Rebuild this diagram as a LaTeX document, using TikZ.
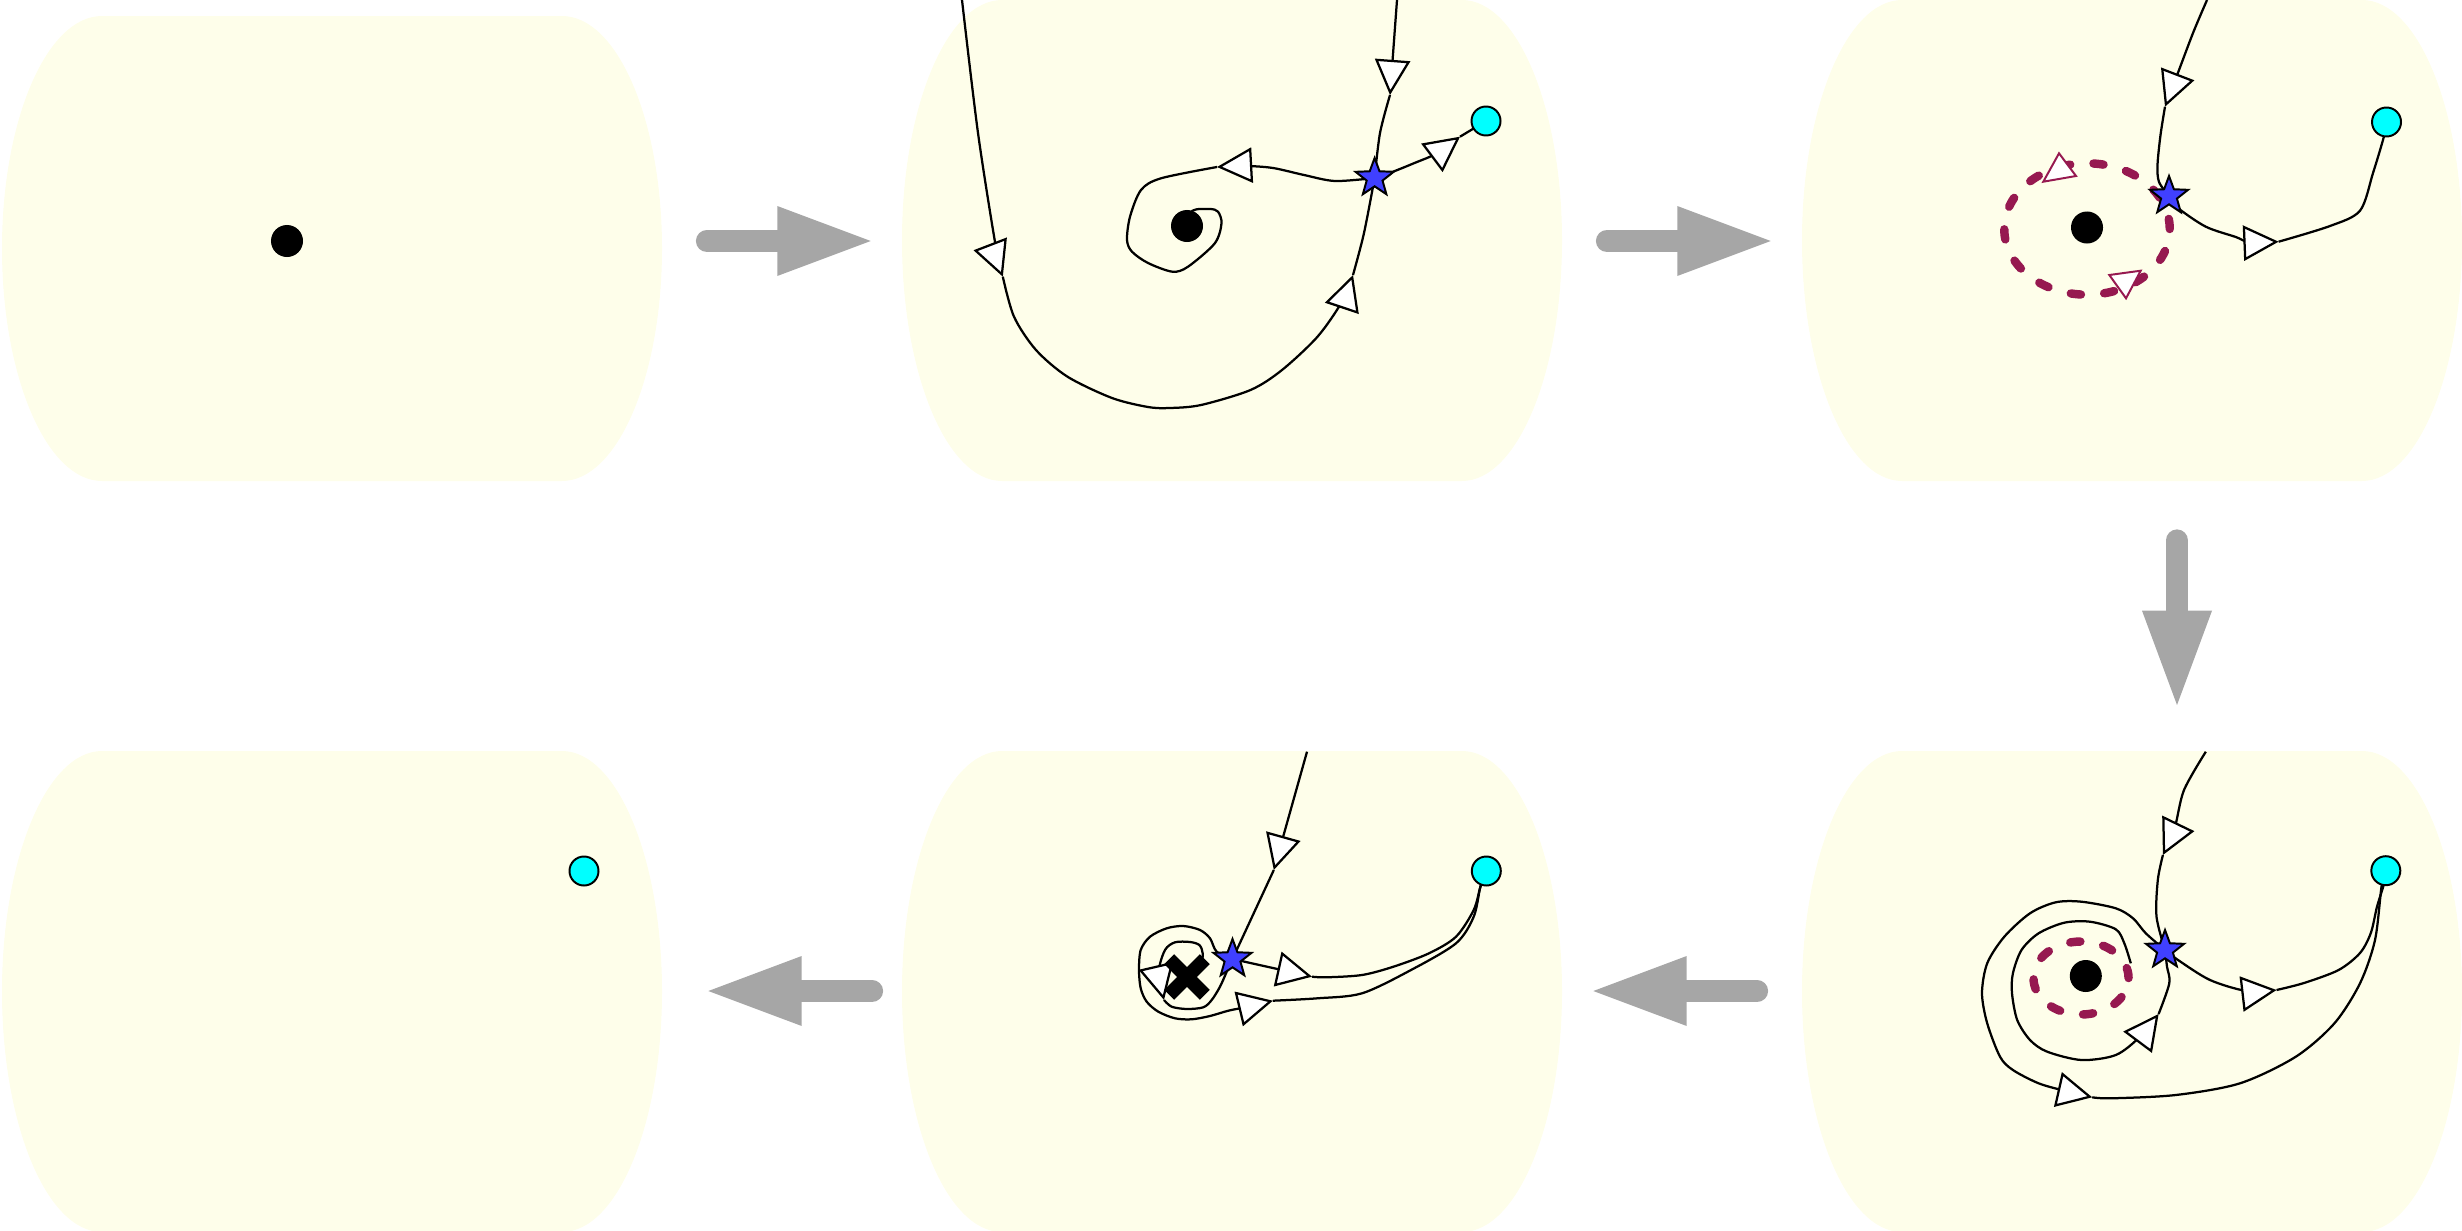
\documentclass[tikz,border=0pt]{standalone}
\usetikzlibrary{arrows.meta,shapes.geometric,shapes.misc}
\definecolor{panelfill}{RGB}{254,254,234}
\definecolor{arrowgray}{RGB}{166,166,166}
\definecolor{ringred}{RGB}{150,25,80}
\definecolor{starblue}{RGB}{64,64,255}
\definecolor{dotcyan}{RGB}{0,255,255}
\newcommand{\panelpath}[3]{%
 \pgfmathsetmacro\pL{#1}%
 \pgfmathsetmacro\pR{#1+660}%
 \pgfmathsetmacro\pM{(#2+#3)/2}%
 \pgfmathsetmacro\pK{0.5523*(#3-#2)/2}%
 \fill[panelfill] (\pL+100,#2) -- (\pR-100,#2)
   .. controls (\pR-44.77,#2) and (\pR,\pM-\pK) .. (\pR,\pM)
   .. controls (\pR,\pM+\pK) and (\pR-44.77,#3) .. (\pR-100,#3)
   -- (\pL+100,#3)
   .. controls (\pL+44.77,#3) and (\pL,\pM+\pK) .. (\pL,\pM)
   .. controls (\pL,\pM-\pK) and (\pL+44.77,#2) .. (\pL+100,#2) -- cycle;
}
\tikzset{
 flowline/.style={line width=0.8pt, draw=black},
 flowtip/.style={flowline, -{Triangle[length=0.44cm, width=0.44cm, fill=white]}},
 ring/.style={draw=ringred, line width=3pt, line cap=round, dash pattern=on 3.6pt off 8.3pt},
 ringtip/.style={draw=ringred, fill=white, line width=0.7pt},
 sink/.style={circle, fill=black, inner sep=0pt, minimum size=0.4cm},
 source/.style={circle, draw=black, fill=dotcyan, line width=0.7pt, inner sep=0pt, minimum size=0.3625cm},
 saddle/.style={star, star points=5, star point ratio=2.4, draw=black, fill=starblue, line width=0.7pt, inner sep=0pt, minimum size=0.5cm},
 xmark/.style={cross out, draw=black, line width=5pt, inner sep=0pt, minimum size=0.27cm},
 bigshaft/.style={draw=arrowgray, line width=7.9pt, line cap=round},
 bighead/.style={fill=arrowgray}
}
\begin{document}
\begin{tikzpicture}[x=0.0125cm, y=-0.0125cm]
\useasboundingbox (0,0) rectangle (2462,1231);
% panels
\panelpath{2}{16}{481}
\panelpath{902}{0}{481}
\panelpath{1802}{0}{481}
\panelpath{2}{751}{1232}
\panelpath{902}{751}{1232}
\panelpath{1802}{751}{1232}
% gray arrows between panels
\coordinate (g1s) at (707,241);   \coordinate (g1b) at (777.3,241);
\draw[bigshaft] (g1s) -- (g1b);
\fill[bighead] (777.3,206) -- (870.7,241) -- (777.3,276) -- cycle;
\coordinate (g2s) at (1607,241);  \coordinate (g2b) at (1677.3,241);
\draw[bigshaft] (g2s) -- (g2b);
\fill[bighead] (1677.3,206) -- (1770.7,241) -- (1677.3,276) -- cycle;
\coordinate (g3s) at (2177,540.5); \coordinate (g3b) at (2177,610.7);
\draw[bigshaft] (g3s) -- (g3b);
\fill[bighead] (2142,610.7) -- (2177,705) -- (2212,610.7) -- cycle;
\coordinate (g4s) at (1757,991);  \coordinate (g4b) at (1686.7,991);
\draw[bigshaft] (g4s) -- (g4b);
\fill[bighead] (1686.7,956) -- (1593.3,991) -- (1686.7,1026) -- cycle;
\coordinate (g5s) at (872,991);   \coordinate (g5b) at (801.7,991);
\draw[bigshaft] (g5s) -- (g5b);
\fill[bighead] (801.7,956) -- (708.3,991) -- (801.7,1026) -- cycle;

% key points
\coordinate (s2) at (1374.6,178);
\coordinate (c2) at (1486,121);
\coordinate (d2) at (1187,226);
\coordinate (s3) at (2169,196);
\coordinate (c3) at (2386.5,122);
\coordinate (d3) at (2087,227.5);
\coordinate (s5) at (1232.5,959);
\coordinate (c5) at (1486.3,871);
\coordinate (x5) at (1187,977);
\coordinate (s6) at (2165,950);
\coordinate (c6) at (2385.8,870.7);
\coordinate (d6) at (2085.8,976);

% ---------- panel 2 ----------
\coordinate (a2top) at (1397,0);
\coordinate (a2m) at (1390,95);
\draw[flowtip] (a2top) -- (a2m);
\draw[flowline] plot[smooth] coordinates {(a2m) (1380,133) (s2)};
\coordinate (b2top) at (962,0);
\coordinate (b2m) at (1002.8,276.7);
\coordinate (b2n) at (1353,275);
\draw[flowtip] plot[smooth] coordinates {(b2top) (978,133) (996,248) (b2m)};
\draw[flowtip] plot[smooth] coordinates {(b2m) (1014,316.7) (1036,350) (1067.5,376.7) (1112,398) (1148,407) (1170,408) (1201,405) (1250.5,390) (1282,370) (1317.5,336.7) (1342,301.7) (b2n)};
\draw[flowline] plot[smooth] coordinates {(b2n) (1364,233) (s2)};
\coordinate (sp2) at (1217,167);
\draw[flowtip] plot[smooth] coordinates {(s2) (1335,181) (1304,175) (1273,168) (1246,166) (sp2)};
\draw[flowline] plot[smooth] coordinates {(sp2) (1161,178.3) (1141,190) (1130,216.7) (1127,240) (1132,251.7) (1148,263) (1172.4,271.7) (1188,266.7) (1214.8,243.3) (1221.5,223.3) (1218,211.7) (1210,209) (1192.5,210.7) (d2)};
\coordinate (cy2) at (1460,136.7);
\draw[flowtip] plot[smooth] coordinates {(s2) (1393,171.7) (1415.7,162.5) (1436,153.7) (cy2)};
\draw[flowline] (cy2) -- (c2);

% ---------- panel 3 ----------
\coordinate (a3top) at (2207,0);
\coordinate (a3m) at (2165,106.7);
\draw[flowtip] plot[smooth] coordinates {(a3top) (2193,33) (2176,78) (a3m)};
\draw[flowline] plot[smooth] coordinates {(a3m) (2160.5,135) (2157.5,165) (2159,182) (s3)};
\coordinate (r3m) at (2278.6,241.7);
\draw[flowtip] plot[smooth] coordinates {(s3) (2178,208) (2205.8,226.7) (2235.8,237) (2249,242) (r3m)};
\draw[flowline] plot[smooth, tension=0.5] coordinates {(r3m) (2330,226) (2360,210.7) (2373,173) (2383.7,137.3) (c3)};
\draw[ring] (2087,229) ellipse [x radius=1.034cm, y radius=0.821cm];
\filldraw[ringtip] (2043.3,181.7) -- (2076,176) -- (2059,153.3) -- cycle;
\filldraw[ringtip] (2109.3,275) -- (2140.7,270.7) -- (2126,298.3) -- cycle;

% ---------- panel 6 ----------
\coordinate (a6top) at (2205.8,751.7);
\coordinate (a6m) at (2162.9,855);
\draw[flowtip] plot[smooth] coordinates {(a6top) (2184,790) (2174.7,827.7) (a6m)};
\draw[flowline] plot[smooth] coordinates {(a6m) (2157.8,880) (2156.5,916.7) (s6)};
\coordinate (r6m) at (2276.5,990);
\draw[flowtip] plot[smooth] coordinates {(s6) (2178,960) (2210,980) (2246.5,991) (r6m)};
\draw[flowline] plot[smooth] coordinates {(r6m) (2304,983) (2338.6,970) (2360,953) (2370.8,933) (2377,906.7) (2383.6,885) (c6)};
\coordinate (i6s) at (2130.8,963.3);
\coordinate (i6m) at (2158.6,1014);
\draw[flowtip] plot[smooth] coordinates {(i6s) (2124.3,943.3) (2115.8,929.3) (2090,921.7) (2064.3,922.7) (2038.6,933.3) (2021.5,950) (2012.9,973.3) (2012,993.3) (2017.2,1020) (2030,1040) (2047.2,1051.7) (2081.5,1060) (2115.8,1055) (2140,1036.7) (i6m)};
\draw[flowline] plot[smooth] coordinates {(i6m) (2169.3,983.3) (2167,966.7) (s6)};
\coordinate (o6m) at (2092.2,1097.3);
\draw[flowtip] plot[smooth] coordinates {(s6) (2145.8,933.3) (2133,918.3) (2115.8,908.3) (2081.5,901.7) (2055.7,902.3) (2030,913.3) (2004.3,936.7) (1987.2,963.3) (1982,993.3) (1987.2,1023.3) (2000,1056.7) (2012.9,1070) (2038.6,1083.3) (2064.7,1090.8) (o6m)};
\draw[flowline] plot[smooth] coordinates {(o6m) (2111.5,1098.3) (2175.8,1095) (2240,1083.3) (2295.8,1056.7) (2334.4,1023.3) (2360,983.3) (2375,940) (2381.5,886.7) (c6)};
\draw[ring] (2081,978) ellipse [x radius=0.594cm, y radius=0.456cm];

% ---------- panel 5 ----------
\coordinate (a5top) at (1307,751.7);
\coordinate (a5m) at (1273.8,870);
\draw[flowtip] (a5top) -- (a5m);
\draw[flowline] (a5m) -- (s5);
\coordinate (r5m) at (1312,976.7);
\draw[flowtip] (s5) -- (r5m);
\draw[flowline] plot[smooth] coordinates {(r5m) (1326.4,977.3) (1362,975) (1393.4,966.7) (1429,953.3) (1456,936.7) (1473.7,910) (1480.4,886.7) (c5)};
\coordinate (o5m) at (1272.9,1000.7);
\draw[flowtip] plot[smooth] coordinates {(s5) (1216.7,951.7) (1210,938.3) (1200,930) (1183.3,926) (1166.7,928.3) (1150,936.7) (1140.7,950) (1139,970) (1140.7,988.3) (1146.7,1001.7) (1158.3,1011.7) (1175,1018.3) (1191.7,1019.3) (1210,1016) (1228.3,1010.7) (1245.4,1007.2) (o5m)};
\draw[flowline] plot[smooth] coordinates {(o5m) (1317.5,998.3) (1362,993.3) (1411,970) (1456,943.3) (1473.7,916.7) (1480.4,886.7) (c5)};
\coordinate (i5s) at (1201.5,968);
\coordinate (i5m) at (1164,1000);
\draw[flowtip] plot[smooth] coordinates {(i5s) (1202.7,953.3) (1199.3,945) (1190,942) (1175,942.3) (1165,950) (1159,971) (i5m)};
\draw[flowline] plot[smooth] coordinates {(i5m) (1171.7,1006.7) (1186.7,1009) (1203.3,1007.3) (1211.7,1000) (1220,986.7) (1226.7,971.7) (s5)};

% ---------- nodes ----------
\node[sink] (D1) at (287,241) {};
\node[sink] (D2) at (d2) {};
\node[source] (C2) at (c2) {};
\node[saddle] (S2) at (s2) {};
\node[sink] (D3) at (d3) {};
\node[source] (C3) at (c3) {};
\node[saddle] (S3) at (s3) {};
\node[source] (C4) at (584,871) {};
\node[xmark] (X5) at (x5) {};
\node[source] (C5) at (c5) {};
\node[saddle] (S5) at (s5) {};
\node[sink] (D6) at (d6) {};
\node[source] (C6) at (c6) {};
\node[saddle] (S6) at (s6) {};
\end{tikzpicture}
\end{document}
